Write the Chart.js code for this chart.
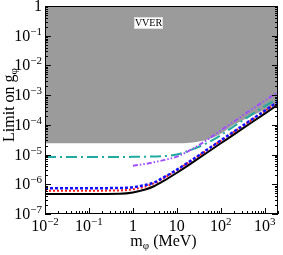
<!DOCTYPE html>
<html>
<head>
<meta charset="utf-8">
<script src="https://cdn.jsdelivr.net/npm/chart.js@4.4.0/dist/chart.umd.min.js"></script>
<style>
html, body { margin: 0; padding: 0; background: #fff; }
#wrap { width: 283px; height: 255px; }
</style>
</head>
<body>
<div id="wrap"><canvas id="myChart" width="283" height="255"></canvas></div>
<script>
// masses (MeV) and limits
var masses = [0.01, 0.1, 0.5, 1, 2, 3, 5, 10, 20, 50, 100, 200, 500, 1000, 2000];
var blackLimit = [4.7e-7, 4.7e-7, 4.8e-7, 5.3e-7, 6.8e-7, 8.6e-7, 1.3e-6, 2.45e-6, 4.8e-6, 1.2e-5, 2.4e-5, 4.8e-5, 1.2e-4, 2.4e-4, 4.8e-4];
var redLimit = [6.1e-7, 6.1e-7, 6.2e-7, 6.8e-7, 8.6e-7, 1.07e-6, 1.6e-6, 3.0e-6, 5.8e-6, 1.45e-5, 2.9e-5, 5.8e-5, 1.45e-4, 2.9e-4, 5.8e-4];
var blueLimit = [7.4e-7, 7.4e-7, 7.5e-7, 8.0e-7, 9.6e-7, 1.15e-6, 1.7e-6, 3.1e-6, 6.0e-6, 1.5e-5, 3.0e-5, 6.0e-5, 1.5e-4, 3.0e-4, 6.0e-4];
var tealLimit = [8.3e-6, 8.3e-6, 8.3e-6, 8.4e-6, 8.5e-6, 8.6e-6, 8.8e-6, 1.0e-5, 1.4e-5, 2.5e-5, 4.5e-5, 9.0e-5, 2.2e-4, 4.3e-4, 7.5e-4];
var purpleMasses = [1, 2, 3, 5, 10, 20, 50, 100, 200, 500, 1000, 2000];
var purpleLimit = [4.2e-6, 4.9e-6, 5.5e-6, 6.5e-6, 8.5e-6, 1.4e-5, 3.2e-5, 6.5e-5, 1.3e-4, 3.3e-4, 6.5e-4, 1.3e-3];
var vverBound = [2.4e-5, 2.4e-5, 2.4e-5, 2.4e-5, 2.4e-5, 2.4e-5, 2.4e-5, 2.4e-5, 2.5e-5, 3.2e-5, 5.0e-5, 1.0e-4, 2.0e-4, 3.2e-4, 5.5e-4];

var xTickValues = [0.01, 0.1, 1, 10, 100, 1000];
var xTickBase = ['10', '10', '1', '10', '10', '10'];
var xTickExp = ['\u22122', '\u22121', '', '', '2', '3'];
var yTickValues = [1, 1e-1, 1e-2, 1e-3, 1e-4, 1e-5, 1e-6, 1e-7];
var yTickBase = ['1', '10', '10', '10', '10', '10', '10', '10'];
var yTickExp = ['', '\u22121', '\u22122', '\u22123', '\u22124', '\u22125', '\u22126', '\u22127'];

function pts(xs, ys) {
    return xs.map(function (x, i) { return { x: x, y: ys[i] }; });
}

var serif = '"Liberation Serif", "DejaVu Serif", serif';

function drawPow(ctx, base, exp, x, y, align) {
    ctx.font = '16px ' + serif;
    var wb = ctx.measureText(base).width;
    ctx.font = '11px ' + serif;
    var we = exp ? ctx.measureText(exp).width : 0;
    var w = wb + we;
    var x0 = align === 'right' ? x - w : x - w / 2;
    ctx.textAlign = 'left';
    ctx.textBaseline = 'alphabetic';
    ctx.font = '16px ' + serif;
    ctx.fillText(base, x0, y);
    if (exp) {
        ctx.font = '11px ' + serif;
        ctx.fillText(exp, x0 + wb, y - 6);
    }
}

var framePlugin = {
    id: 'frame',
    afterDraw: function (chart) {
        var ctx = chart.ctx;
        var a = chart.chartArea;
        var xs = chart.scales.x, ys = chart.scales.y;
        ctx.save();
        ctx.strokeStyle = '#000';
        ctx.lineWidth = 1;
        ctx.strokeRect(a.left + 0.5, a.top + 0.5, a.right - a.left - 1, a.bottom - a.top - 1);

        // inward ticks
        ctx.beginPath();
        for (var d = -2; d <= 3; d++) {
            for (var m = 1; m <= 9; m++) {
                var v = m * Math.pow(10, d);
                if (v > xs.max) break;
                var px = Math.round(xs.getPixelForValue(v)) + 0.5;
                var len = m === 1 ? 6 : 3;
                ctx.moveTo(px, a.bottom);
                ctx.lineTo(px, a.bottom - len);
            }
        }
        for (var e = -7; e <= 0; e++) {
            for (var k = 1; k <= 9; k++) {
                var yv = k * Math.pow(10, e);
                if (yv > 1) break;
                var py = Math.round(ys.getPixelForValue(yv)) + 0.5;
                var l2 = k === 1 ? 6 : 3;
                ctx.moveTo(a.left, py);
                ctx.lineTo(a.left + l2, py);
                ctx.moveTo(a.right, py);
                ctx.lineTo(a.right - l2, py);
            }
        }
        ctx.stroke();

        // tick labels
        ctx.fillStyle = '#000';
        xTickValues.forEach(function (v, i) {
            drawPow(ctx, xTickBase[i], xTickExp[i], xs.getPixelForValue(v), a.bottom + 17, 'center');
        });
        yTickValues.forEach(function (v, i) {
            drawPow(ctx, yTickBase[i], yTickExp[i], a.left - 3, ys.getPixelForValue(v) + 5, 'right');
        });

        // axis titles
        ctx.font = '16px ' + serif;
        var t1 = 'm', t2 = ' (MeV)';
        var w1 = ctx.measureText(t1).width, w3 = ctx.measureText(t2).width;
        ctx.font = '11px ' + serif;
        var w2 = ctx.measureText('\u03c6').width;
        var cx = (a.left + a.right) / 2 + 2;
        var sx = cx - (w1 + w2 + w3) / 2;
        var by = 246;
        ctx.textAlign = 'left';
        ctx.font = '16px ' + serif;
        ctx.fillText(t1, sx, by);
        ctx.font = '11px ' + serif;
        ctx.fillText('\u03c6', sx + w1, by + 3);
        ctx.font = '16px ' + serif;
        ctx.fillText(t2, sx + w1 + w2, by);

        ctx.translate(14, 105);
        ctx.rotate(-Math.PI / 2);
        var s1 = 'Limit on g';
        ctx.font = '16px ' + serif;
        var ws1 = ctx.measureText(s1).width;
        ctx.font = '11px ' + serif;
        var ws2 = ctx.measureText('\u03c6').width;
        var sx2 = -(ws1 + ws2) / 2;
        ctx.font = '16px ' + serif;
        ctx.fillText(s1, sx2, 0);
        ctx.font = '11px ' + serif;
        ctx.fillText('\u03c6', sx2 + ws1, 3);
        ctx.restore();

        // VVER label box
        ctx.save();
        ctx.fillStyle = '#fff';
        ctx.fillRect(134, 17, 29, 12);
        ctx.strokeStyle = '#dddddd';
        ctx.strokeRect(134.5, 17.5, 28, 11);
        ctx.fillStyle = '#000';
        ctx.font = '10px ' + serif;
        ctx.textAlign = 'center';
        ctx.textBaseline = 'middle';
        ctx.fillText('VVER', 148.5, 23.5);
        ctx.restore();
    }
};

var common = { fill: false, pointRadius: 0, cubicInterpolationMode: 'monotone' };

var ctx = document.getElementById('myChart').getContext('2d');
var myChart = new Chart(ctx, {
    type: 'line',
    data: {
        datasets: [Object.assign({}, common, {
            label: 'VVER',
            data: pts(masses, vverBound),
            borderWidth: 0,
            borderColor: 'rgba(0,0,0,0)',
            backgroundColor: '#9b9b9b',
            fill: 'end',
            order: 10
        }), Object.assign({}, common, {
            label: 'teal',
            data: pts(masses, tealLimit),
            borderColor: '#20aaa0',
            borderWidth: 2,
            borderDash: [11, 4, 2, 4],
            order: 5
        }), Object.assign({}, common, {
            label: 'purple',
            data: pts(purpleMasses, purpleLimit),
            borderColor: '#a050ff',
            borderWidth: 2,
            borderDash: [5, 2, 1.5, 2, 1.5, 2],
            order: 4
        }), Object.assign({}, common, {
            label: 'black',
            data: pts(masses, blackLimit),
            borderColor: '#000',
            borderWidth: 2,
            order: 3
        }), Object.assign({}, common, {
            label: 'red',
            data: pts(masses, redLimit),
            borderColor: '#ff1a1a',
            borderWidth: 2,
            borderDash: [2, 2],
            order: 2
        }), Object.assign({}, common, {
            label: 'blue',
            data: pts(masses, blueLimit),
            borderColor: '#1010ff',
            borderWidth: 2.5,
            borderDash: [3, 2],
            order: 1
        })]
    },
    options: {
        responsive: false,
        animation: false,
        devicePixelRatio: 1,
        layout: { padding: { left: 45, right: 5, top: 6, bottom: 41 } },
        plugins: { legend: { display: false }, tooltip: { enabled: false } },
        scales: {
            x: {
                type: 'logarithmic',
                min: 0.01,
                max: 2000,
                grid: { display: false, drawTicks: false },
                border: { display: false },
                ticks: { display: false }
            },
            y: {
                type: 'logarithmic',
                min: 1e-7,
                max: 1,
                grid: { display: false, drawTicks: false },
                border: { display: false },
                ticks: { display: false }
            }
        }
    },
    plugins: [framePlugin]
});
</script>
</body>
</html>
